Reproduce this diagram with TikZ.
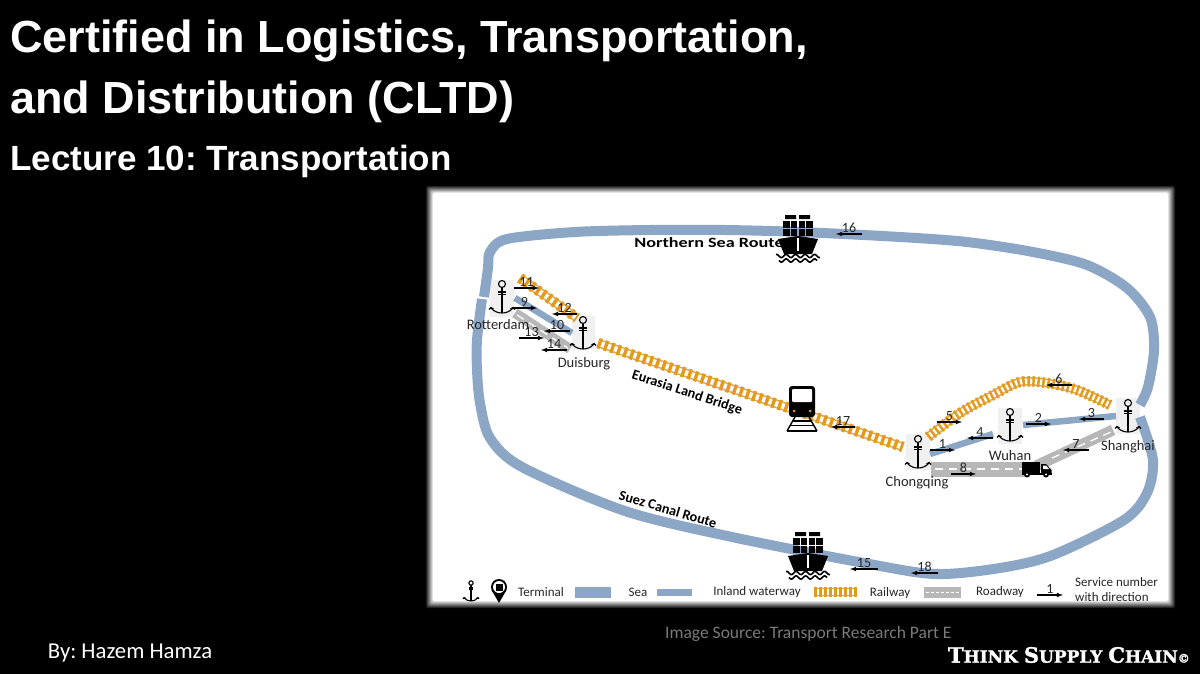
\documentclass[tikz,border=0pt]{standalone}
\usepackage{fontspec}
\usepackage{graphicx}
\setmainfont{Carlito}
\newfontfamily\titlefont{Liberation Sans}
\newfontfamily\brandfont[FakeBold=1.5]{DejaVu Serif}
\usepackage{xcolor}
\definecolor{seablue}{HTML}{8CA6C5}
\definecolor{railorange}{HTML}{E69A1C}
\definecolor{railtan}{HTML}{D9A94E}
\definecolor{roadgray}{HTML}{B7B7B7}
\definecolor{srcgray}{HTML}{7A7A7A}
\newcommand{\px}[1]{\fontsize{#1}{#1}\selectfont}
\tikzset{
  sea/.style={draw=seablue,line width=10pt,line join=round},
  inland/.style={draw=seablue,line width=6.5pt},
  railway/.style={preaction={draw=railtan,line width=1.5pt,double=white,double distance=5.5pt},
    draw=railorange,line width=10.5pt,dash pattern=on #1pt off #1pt},
  railway/.default=3.4,
  roadway/.style={draw=roadgray,line width=#1},
  roaddash/.style={draw=white,line width=1.3pt,dash pattern=on 8pt off 6pt},
  svcarrow/.style={->,>=latex,line width=1.1pt,black},
  svclabel/.style={above,inner sep=0.5pt,text=black!85,font=\px{14}},
  place/.style={text=black!85,font=\px{14.5},inner sep=0pt},
  routename/.style={font=\bfseries\px{14.2},inner sep=0pt},
  legendtext/.style={text=black!85,font=\px{13},inner sep=0pt},
  titletext/.style={anchor=base west,text=white,font=\titlefont\bfseries,inner sep=0pt},
  terminalbg/.style={fill=black!6,draw=none}
}
% service arrow: number, start x, end x, y
\newcommand{\svc}[4]{
  \coordinate (svc#1a) at (#2,#4);
  \coordinate (svc#1b) at (#3,#4);
  \draw[svcarrow] (svc#1a) -- node[svclabel] (svc#1num) {#1} (svc#1b);
}
% anchor: x, y of the ring, scale
\newcommand{\anchorsym}[3]{
  \begin{scope}[shift={(#1,#2)},scale=#3,line width=1.1pt]
    \draw (0,3.5) -- (0,29);
    \draw (-4,8) -- (4,8) (-4,10.5) -- (4,10.5);
    \draw (0,0) circle (3.5);
    \draw[line cap=round] (-11,24) .. controls (-8,28) and (-3,29) .. (0,29) .. controls (3,29) and (8,28) .. (11,24);
    \draw (-13,25.5) -- (-11,23.5) -- (-8.5,25) (13,25.5) -- (11,23.5) -- (8.5,25);
  \end{scope}
}
% ship: x, y of the top of the hull
\newcommand{\shipsym}[2]{
  \begin{scope}[shift={(#1,#2)}]
    \fill (-13,-21) rectangle (-2,-17) (1,-21) rectangle (12,-17);
    \foreach \cx in {-15,-7.5,0.5,8} {
      \fill (\cx,-15) rectangle ++(6.5,7);
      \fill (\cx,-7) rectangle ++(6.5,6.5);
    }
    \fill (-20,3) -- (0,0) -- (20,3) -- (14,18) -- (-14,18) -- cycle;
    \draw[white,line width=1.2pt] (0,2) -- (0,15);
    \draw[line width=1.6pt] plot[domain=-22:22,samples=45,smooth] (\x,{20+1.6*sin(\x*38)});
    \draw[line width=1.6pt] plot[domain=-19:19,samples=40,smooth] (\x,{24.5+1.6*sin(\x*38)});
  \end{scope}
}
% train: x, y of the roof
\newcommand{\trainsym}[2]{
  \begin{scope}[shift={(#1,#2)}]
    \fill[rounded corners=3pt] (-13,0) rectangle (13,31);
    \fill[white,rounded corners=1pt] (-10,3) rectangle (10,16);
    \fill[railorange] (-8,25) circle (1.5) (8,25) circle (1.5);
    \draw[line width=1.4pt] (-7,31) -- (-15,45) (7,31) -- (15,45);
    \draw[line width=1.4pt] (-10,35) -- (10,35) (-12,39.5) -- (12,39.5) (-15,45) -- (15,45);
  \end{scope}
}
% truck: x, y of the top left corner
\newcommand{\trucksym}[2]{
  \begin{scope}[shift={(#1,#2)}]
    \fill (0,0) rectangle (18,11);
    \fill (19,2) -- (24,2) -- (29.5,8) -- (29.5,12) -- (19,12) -- cycle;
    \fill[white] (21,3.5) -- (24,3.5) -- (27,7) -- (21,7) -- cycle;
    \fill (0,11) rectangle (30,12.5);
    \fill (5,12.5) circle (3) (24,12.5) circle (3);
    \fill[white] (5,12.5) circle (1.1) (24,12.5) circle (1.1);
  \end{scope}
}
\begin{document}
\frenchspacing
\begin{tikzpicture}[x=1pt,y=-1pt]
\useasboundingbox (0,0) rectangle (1200,674);
\fill[black] (0,0) rectangle (1200,674);
% soft edged panel
\foreach \i [evaluate=\i as \pct using \i*12.5, evaluate=\i as \off using 8-\i] in {0,...,8} {
  \fill[white!\pct!black,rounded corners=2pt] (433-\off,193-\off) rectangle (1168+\off,601+\off);
}
% titles
\node[titletext,font=\titlefont\bfseries\px{45}] (title1) at (10,53) {Certified in Logistics, Transportation,};
\node[titletext,font=\titlefont\bfseries\px{45}] (title2) at (10,114) {and Distribution (CLTD)};
\node[titletext,font=\titlefont\bfseries\px{35}] (title3) at (10,171) {Lecture 10: Transportation};
% terminal backgrounds
\fill[terminalbg] (490,280) rectangle (514,317);
\fill[terminalbg] (572,316) rectangle (595,350);
\fill[terminalbg] (906,434) rectangle (930,470);
\fill[terminalbg] (998,408) rectangle (1022,444);
\fill[terminalbg] (1116,398) rectangle (1140,434);
% sea routes
\draw[sea,smooth] plot coordinates {(484,297) (488,268) (490,252) (507,239) (575,232) (650,230) (725,230) (800,232) (900,237) (967,242) (1033,252) (1087,265) (1127,288) (1150,317) (1154,350) (1148,387) (1140,405)};
\draw[sea,smooth] plot coordinates {(1140,417) (1153,460) (1147,493) (1124,520) (1053,555) (1000,568) (935,574) (864,563) (732,537) (625,511) (522,467) (490,438) (480,403) (477,370) (477,340) (482,299)};
% inland waterways
\draw[inland] (515,298) -- (572,333);
\draw[inland] (930,454) -- (993,434);
\draw[inland] (1023,425) -- (1116,416);
% roadways
\draw[roadway=10pt] (515,313) -- (570,349);
\draw[roaddash] (517,315) -- (568,348);
\draw[roadway=15pt] (931,469) -- (1030,469);
\draw[roadway=11pt] (1036,466) -- (1113,430);
\draw[roaddash] (935,469) -- (1023,469);
\draw[roaddash] (1052,458) -- (1111,432);
% railways
\draw[railway] (520,278) -- (577,318);
\draw[railway] (598,343) -- (903,447);
\draw[railway=2.5,smooth] plot coordinates {(928,437) (960,413) (993,395) (1020,382) (1047,383) (1077,390) (1110,405)};
% route names
\node[routename] (north) at (709,243) {\scalebox{1.28}[1]{Northern Sea Route}};
\node[routename,rotate=-18] (eurasia) at (687,393) {Eurasia Land Bridge};
\node[routename,rotate=-16.5] (suez) at (668,509) {Suez Canal Route};
% terminals
\anchorsym{502}{284}{1}
\anchorsym{583}{320}{1}
\anchorsym{918}{439}{1}
\anchorsym{1010}{412}{1}
\anchorsym{1128}{403}{1}
\node[place] (rotterdam) at (498,325) {Rotterdam};
\node[place] (duisburg) at (584,364) {Duisburg};
\node[place] (chongqing) at (917,483) {Chongqing};
\node[place] (wuhan) at (1010,456) {Wuhan};
\node[place] (shanghai) at (1128,447) {Shanghai};
% vehicles
\shipsym{798}{236}
\shipsym{808}{553}
\trainsym{802}{386}
\trucksym{1022}{462}
% services
\svc{1}{930}{955}{450}
\svc{2}{1026}{1051}{424}
\svc{3}{1104}{1079}{419}
\svc{4}{993}{967}{438}
\svc{5}{937}{962}{422}
\svc{6}{1072}{1046}{385}
\svc{7}{1089}{1063}{450}
\svc{8}{951}{976}{474}
\svc{9}{512}{537}{308}
\svc{10}{570}{544}{331}
\svc{11}{514}{539}{288}
\svc{12}{577}{552}{314}
\svc{13}{519}{544}{338}
\svc{14}{567}{541}{350}
\svc{15}{878}{850}{569}
\svc{16}{862}{836}{234}
\svc{17}{855}{831}{427}
\svc{18}{938}{911}{573}
% legend
\anchorsym{471}{583}{0.62}
\fill (499,587) circle (8);
\fill (491.5,590) -- (499,603) -- (506.5,590) -- cycle;
\fill[white] (499,587) circle (6);
\fill (495.5,583.5) rectangle (502.5,590.5);
\node[legendtext] (terminal) at (541,592) {Terminal};
\fill[seablue] (575,587) rectangle (611,598);
\node[legendtext] (sealabel) at (638,592) {Sea};
\fill[seablue] (657,589) rectangle (692,596);
\node[legendtext] (inlandlabel) at (757,592) {Inland waterway};
\draw[railway=2.5] (814,592) -- (857,592);
\node[legendtext] (raillabel) at (890,593) {Railway};
\fill[roadgray] (924,587) rectangle (961,598);
\draw[roaddash,dash pattern=on 3pt off 2pt] (926,592.5) -- (960,592.5);
\node[legendtext] (roadlabel) at (1000,592) {Roadway};
\coordinate (keya) at (1037,595);
\coordinate (keyb) at (1063,595);
\draw[svcarrow] (keya) -- node[svclabel] (keynum) {1} (keyb);
\node[legendtext,align=left,font=\px{13}\linespread{1.15}\selectfont,anchor=west] (keytext) at (1075,590) {Service number\\with direction};
% credits
\node[text=white,font=\px{22.7},inner sep=0pt] (byline) at (130,653) {By: Hazem Hamza};
\node[text=srcgray,font=\px{17.5},inner sep=0pt,anchor=west] (source) at (665,634) {Image Source: Transport Research Part E};
\node[text=white,font=\brandfont\bfseries\px{17},inner sep=0pt,anchor=east] (brand) at (1190,655) {{\px{21}T}HINK {\px{21}S}UPPLY {\px{21}C}HAIN{\px{12}©}};
\end{tikzpicture}
\end{document}
